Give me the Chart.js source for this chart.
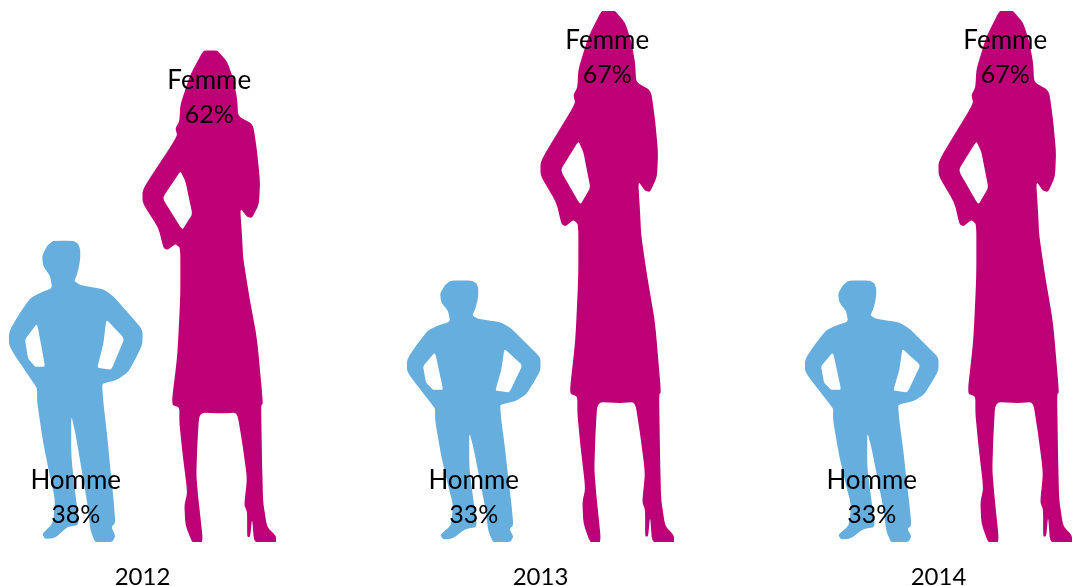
<!doctype html>
<html>
  <head>
    <title>Homme / Femme</title>
    <script src="https://cdn.jsdelivr.net/npm/chart.js"></script>
    <style>
      body {
        margin: 0;
        background: #fff;
      }
      canvas {
        display: block;
      }
    </style>
  </head>
  <body>
    <canvas id="chart" width="1074" height="586"></canvas>

    <script>
      const years = ['2012', '2013', '2014'];
      const hommeValues = [38, 33, 33];
      const femmeValues = [62, 67, 67];

      // silhouettes, [x, y] inside a box of the size given
      const manBox = [133, 299];
      const manOutline = [
        [44, 0], [55, -1], [64, 0], [69, 3], [71, 9], [71, 17], [70, 24], [68, 33], [65, 40], [71, 44], [83, 46],
        [94, 48], [104, 55], [118, 71], [133, 88], [133, 103], [126, 117], [119, 130], [108, 138], [93, 142],
        [93, 147], [94, 160], [98, 195], [101, 227], [104, 255], [106, 280], [102, 284], [106, 293],
        [103, 299], [86, 300], [81, 287], [78, 260], [72, 225], [66, 190], [62, 173], [62, 214], [66, 250],
        [70, 282], [58, 284], [46, 295], [36, 296], [33, 291], [44, 280], [46, 257], [40, 230], [34, 200],
        [28, 160], [28, 147], [27, 145], [0, 105], [0, 90], [10, 73], [21, 57], [32, 51], [43, 47], [41, 35],
        [34, 25], [33, 15], [38, 5],
      ];
      const manHoles = [
        [[28, 82], [36, 125], [26, 125], [19, 117], [16, 98]],
        [[97, 78], [115, 97], [102, 128], [88, 126], [94, 102]],
      ];
      const womanBox = [134, 493];
      const womanOutline = [
        [61, 0], [68, -1], [75, 0], [85, 11], [91, 28], [95, 48], [96, 66], [111, 74], [115, 101], [118, 131], [117, 154],
        [110, 168], [105, 167], [98, 158], [100, 188], [101, 208], [107, 246], [115, 289], [121, 354], [119, 356],
        [120, 413], [121, 453], [125, 478], [134, 487], [134, 494], [112, 494], [110, 469], [108, 488], [105, 488],
        [105, 463], [102, 456], [105, 429], [100, 393], [95, 363], [80, 364], [57, 363], [55, 396], [54, 426],
        [56, 449], [61, 494], [50, 494], [43, 476], [42, 456], [45, 443], [40, 403], [37, 374], [37, 358], [29, 355],
        [35, 306], [38, 246], [38, 198], [33, 194], [25, 200], [21, 198], [16, 178], [0, 153], [0, 139], [35, 86],
        [33, 78], [37, 71], [38, 54], [48, 24],
      ];
      const womanHoles = [[[38, 121], [43, 131], [50, 164], [40, 180], [20, 148]]];

      // straight edges with the corners taken off a little
      function tracePath(outline, holes, box) {
        const path = new Path2D();
        [outline, ...holes].forEach((ring, r) => {
          const cut = r === 0 ? 0.25 : 0.12;
          const pts = ring.map(([x, y]) => [x / box[0], y / box[1]]);
          pts.forEach((p, i) => {
            const prev = pts[(i + pts.length - 1) % pts.length];
            const next = pts[(i + 1) % pts.length];
            const a = [p[0] + (prev[0] - p[0]) * cut, p[1] + (prev[1] - p[1]) * cut];
            const b = [p[0] + (next[0] - p[0]) * cut, p[1] + (next[1] - p[1]) * cut];
            if (i === 0) path.moveTo(a[0], a[1]);
            else path.lineTo(a[0], a[1]);
            path.quadraticCurveTo(p[0], p[1], b[0], b[1]);
          });
          path.closePath();
        });
        return path;
      }

      const shapes = [
        { path: tracePath(manOutline, manHoles, manBox), name: 'Homme' },
        { path: tracePath(womanOutline, womanHoles, womanBox), name: 'Femme' },
      ];

      // draws each bar as a figure stretched over the bar's own rectangle
      const figurePlugin = {
        id: 'figures',
        beforeDatasetDraw(chart, args) {
          const ctx = chart.ctx;
          const dataset = chart.data.datasets[args.index];
          const shape = shapes[args.index];
          args.meta.data.forEach((bar) => {
            ctx.save();
            // the figure stops at the base line, feet are cut flat
            ctx.beginPath();
            ctx.rect(bar.x - bar.width / 2 - 1, bar.y, bar.width + 2, bar.base - bar.y);
            ctx.clip();
            ctx.translate(bar.x - bar.width / 2, bar.y);
            ctx.scale(bar.width, bar.base - bar.y);
            ctx.fillStyle = dataset.backgroundColor;
            ctx.fill(shape.path, 'evenodd');
            ctx.restore();
          });
          return false;
        },
        afterDatasetsDraw(chart) {
          const ctx = chart.ctx;
          ctx.save();
          ctx.fillStyle = '#000';
          ctx.textAlign = 'center';
          ctx.textBaseline = 'middle';
          chart.data.datasets.forEach((dataset, d) => {
            chart.getDatasetMeta(d).data.forEach((bar, i) => {
              // men are labelled at the feet, women at the head
              const y1 = d === 0 ? bar.base - 61 : bar.y + 30;
              ctx.font = '26px Lato';
              ctx.fillText(shapes[d].name, bar.x, y1);
              ctx.font = '25px Lato';
              ctx.fillText(dataset.data[i] + '%', bar.x, y1 + 34);
            });
          });
          ctx.restore();
        },
      };

      new Chart(document.getElementById('chart'), {
        type: 'bar',
        data: {
          labels: years,
          datasets: [
            { label: 'Homme', data: hommeValues, backgroundColor: '#65aedd', categoryPercentage: 0.671, barPercentage: 1 },
            { label: 'Femme', data: femmeValues, backgroundColor: '#bd0076', categoryPercentage: 0.671, barPercentage: 1 },
          ],
        },
        plugins: [figurePlugin],
        options: {
          responsive: false,
          animation: false,
          layout: { padding: { left: 142.5, right: 135.5, top: 3, bottom: 0 } },
          plugins: { legend: { display: false }, tooltip: { enabled: false } },
          scales: {
            x: {
              offset: false,
              grid: { display: false },
              border: { display: false },
              afterFit(scale) {
                scale.height = 44;
              },
              ticks: {
                color: '#000',
                padding: 13,
                maxRotation: 0,
                autoSkip: false,
                font: { family: 'Lato', size: 24 },
              },
            },
            y: { display: false, min: 0, max: 68 },
          },
        },
      });
    </script>
  </body>
</html>
